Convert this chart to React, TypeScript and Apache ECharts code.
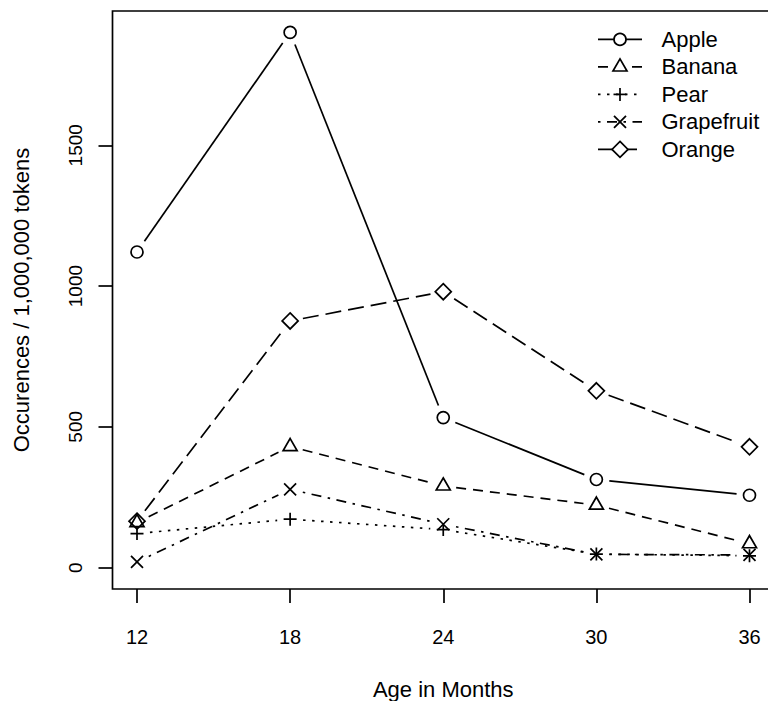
import React, { useEffect, useRef } from "react";
import * as echarts from "echarts";

// ---- data ----
const ages = [12, 18, 24, 30, 36];
const fruitNames = ["Apple", "Banana", "Pear", "Grapefruit", "Orange"];
const apple = [1121, 1901, 533, 313, 257];
const banana = [160, 430, 290, 222, 85];
const pear = [121, 172, 135, 48, 42];
const grapefruit = [20, 278, 154, 47, 45];
const orange = [165, 876, 980, 628, 429];
const xTickValues = [12, 18, 24, 30, 36];
const yTickValues = [0, 500, 1000, 1500];

const seriesValues = [apple, banana, pear, grapefruit, orange];

// ---- styles ----
const FONT = "Liberation Sans, Arial, Helvetica, sans-serif";
const LW = 1.7;
const CHART_W = 800;
const CHART_H = 701;
const dashes: (number[] | null)[] = [null, [10, 7], [2.5, 6.5], [2.5, 6.5, 10, 6.5], [16, 7]];
const symbols = [
  "path://M12,6A6,6,0,1,1,0,6A6,6,0,1,1,12,6Z",
  "path://M7,0L14,12.1L0,12.1Z",
  "path://M0,6.5L13,6.5M6.5,0L6.5,13",
  "path://M0,0L12,12M12,0L0,12",
  "path://M8,0L16,8L8,16L0,8Z",
];
const symbolSizes: any[] = [12, [14, 12.1], 13, 12, 16];
const symbolOffsets: any[] = [[0, 0], [0, -2], [0, 0], [0, 0], [0, 0]];
const GAP = 13;

function legendMarker(i: number, cx: number, cy: number): any[] {
  const st = { fill: "#fff", stroke: "#000", lineWidth: LW };
  const stl = { stroke: "#000", lineWidth: LW };
  switch (i) {
    case 0:
      return [{ type: "circle", shape: { cx, cy, r: 6 }, style: st }];
    case 1:
      return [{ type: "polygon", shape: { points: [[cx, cy - 8], [cx + 7, cy + 4.1], [cx - 7, cy + 4.1]] }, style: st }];
    case 2:
      return [
        { type: "line", shape: { x1: cx - 6.5, y1: cy, x2: cx + 6.5, y2: cy }, style: stl },
        { type: "line", shape: { x1: cx, y1: cy - 6.5, x2: cx, y2: cy + 6.5 }, style: stl },
      ];
    case 3:
      return [
        { type: "line", shape: { x1: cx - 6, y1: cy - 6, x2: cx + 6, y2: cy + 6 }, style: stl },
        { type: "line", shape: { x1: cx - 6, y1: cy + 6, x2: cx + 6, y2: cy - 6 }, style: stl },
      ];
    default:
      return [{ type: "polygon", shape: { points: [[cx, cy - 8], [cx + 8, cy], [cx, cy + 8], [cx - 8, cy]] }, style: st }];
  }
}

export default function App() {
  const ref = useRef<HTMLDivElement>(null);
  useEffect(() => {
    if (!ref.current) return;
    const chart = echarts.init(ref.current, undefined, { renderer: "svg" });

    const series: any[] = [];
    seriesValues.forEach((vals, i) => {
      const segs = vals.slice(0, -1).map((v, k) => [ages[k], v, ages[k + 1], vals[k + 1]]);
      series.push({
        type: "custom",
        name: fruitNames[i] + " line",
        coordinateSystem: "cartesian2d",
        encode: { x: [0, 2], y: [1, 3] },
        data: segs,
        silent: true,
        z: 2,
        renderItem: (params: any, api: any) => {
          const p1 = api.coord([api.value(0), api.value(1)]);
          const p2 = api.coord([api.value(2), api.value(3)]);
          const dx = p2[0] - p1[0];
          const dy = p2[1] - p1[1];
          const len = Math.sqrt(dx * dx + dy * dy);
          if (len <= 2 * GAP) return null;
          const ux = dx / len;
          const uy = dy / len;
          return {
            type: "line",
            shape: {
              x1: p1[0] + ux * GAP,
              y1: p1[1] + uy * GAP,
              x2: p2[0] - ux * GAP,
              y2: p2[1] - uy * GAP,
            },
            style: { stroke: "#000", lineWidth: LW, lineDash: dashes[i] || undefined, fill: null },
          };
        },
      });
      series.push({
        type: "scatter",
        name: fruitNames[i],
        data: vals.map((v, k) => [ages[k], v]),
        symbol: symbols[i],
        symbolSize: symbolSizes[i],
        symbolOffset: symbolOffsets[i],
        symbolKeepAspect: false,
        itemStyle: { color: "rgba(0,0,0,0)", borderColor: "#000", borderWidth: LW, opacity: 1 },
        z: 3,
        silent: true,
      });
    });

    // legend (drawn as graphic)
    const legendEls: any[] = [];
    const legTop = 39.4;
    const legStep = 27.5;
    fruitNames.forEach((name, i) => {
      const y = legTop + i * legStep;
      legendEls.push({
        type: "line",
        shape: { x1: 598, y1: y, x2: 642, y2: y },
        style: { stroke: "#000", lineWidth: LW, lineDash: dashes[i] || undefined },
        silent: true,
      });
      legendMarker(i, 620, y).forEach((m) => legendEls.push({ ...m, silent: true }));
      legendEls.push({
        type: "text",
        x: 661.5,
        y,
        style: { text: name, fontSize: 22, fontFamily: FONT, fill: "#000", verticalAlign: "middle", align: "left" },
        silent: true,
      });
    });

    chart.setOption({
      animation: false,
      backgroundColor: "#fff",
      grid: {
        left: 112.5,
        top: 11,
        width: 661.5,
        height: 578,
        show: true,
        borderColor: "#000",
        borderWidth: LW,
        backgroundColor: "transparent",
        containLabel: false,
        outerBoundsMode: "none",
      },
      xAxis: {
        type: "value",
        min: 11.04,
        max: 36.96,
        name: "Age in Months",
        nameLocation: "middle",
        nameGap: 89,
        nameTextStyle: { fontSize: 22, fontFamily: FONT, color: "#000" },
        axisLine: { show: false, onZero: false },
        splitLine: { show: false },
        axisTick: {
          show: true,
          inside: false,
          length: 14,
          customValues: xTickValues,
          lineStyle: { color: "#000", width: LW },
        },
        axisLabel: {
          show: true,
          customValues: xTickValues,
          margin: 38,
          fontSize: 20,
          fontFamily: FONT,
          color: "#000",
          formatter: (v: number) => String(v),
        },
      },
      yAxis: {
        type: "value",
        min: -76,
        max: 1977,
        name: "Occurences / 1,000,000 tokens",
        nameLocation: "middle",
        nameRotate: 90,
        nameGap: 80,
        nameTextStyle: { fontSize: 22, fontFamily: FONT, color: "#000" },
        axisLine: { show: false, onZero: false },
        splitLine: { show: false },
        axisTick: {
          show: true,
          inside: false,
          length: 14,
          customValues: yTickValues,
          lineStyle: { color: "#000", width: LW },
        },
        axisLabel: {
          show: true,
          customValues: yTickValues,
          rotate: 90,
          margin: 28,
          fontSize: 19,
          fontFamily: FONT,
          color: "#000",
          formatter: (v: number) => String(v),
        },
      },
      graphic: legendEls,
      series,
    });

    return () => chart.dispose();
  }, []);

  return (
    <div style={{ position: "fixed", left: 0, top: 0, width: 768, height: 701, overflow: "hidden", background: "#fff" }}>
      <div ref={ref} style={{ width: CHART_W, height: CHART_H }} />
    </div>
  );
}
